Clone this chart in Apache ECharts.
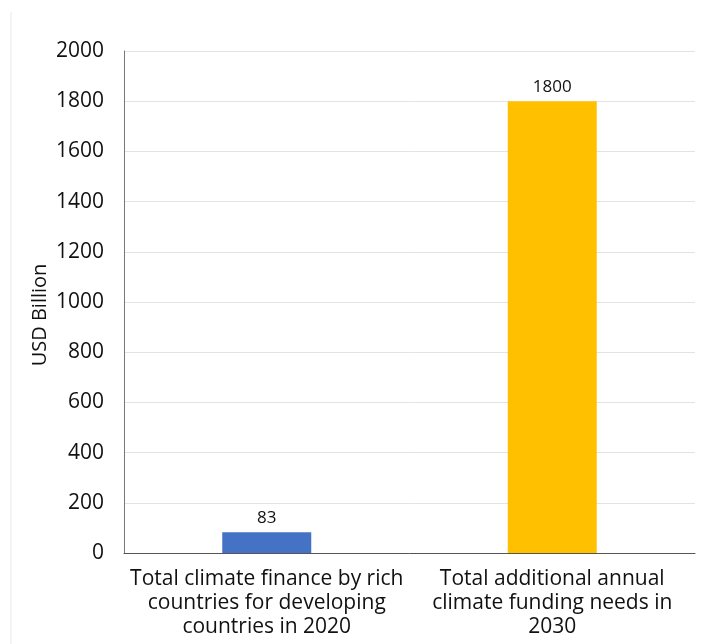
<!DOCTYPE html>
<html>
<head>
<meta charset="utf-8">
<script src="https://cdn.jsdelivr.net/npm/echarts@6/dist/echarts.min.js"></script>
<style>
  html, body { margin: 0; padding: 0; background: #fff; }
  #chart { width: 709px; height: 644px; }
</style>
</head>
<body>
<div id="chart"></div>
<script>
// categories and values
const categories = [
  'Total climate finance by rich\ncountries for developing\ncountries in 2020',
  'Total additional annual\nclimate funding needs in\n2030'
];
const values = [83, 1800];
const barColors = ['#4472c4', '#ffc000'];

const chart = echarts.init(document.getElementById('chart'));

const option = {
  animation: false,
  textStyle: { fontFamily: 'Open Sans' },
  graphic: [
    {
      type: 'line',
      shape: { x1: 11, y1: 12, x2: 11, y2: 644 },
      style: { stroke: '#e8e8e8', lineWidth: 1 }
    }
  ],
  grid: { left: 124, right: 14, top: 51, bottom: 91 },
  xAxis: {
    type: 'category',
    data: categories,
    axisLine: { lineStyle: { color: '#555', width: 1 } },
    axisTick: { show: false },
    axisLabel: {
      color: '#111',
      fontSize: 21,
      lineHeight: 24,
      margin: 14,
      interval: 0
    }
  },
  yAxis: {
    type: 'value',
    min: 0,
    max: 2000,
    interval: 200,
    name: 'USD Billion',
    nameLocation: 'middle',
    nameGap: 74,
    nameMoveOverlap: false,
    nameTextStyle: { color: '#111', fontSize: 20, padding: [0, 26, 0, 0] },
    axisLine: { show: true, lineStyle: { color: '#777', width: 1 } },
    axisTick: { show: false },
    axisLabel: { color: '#111', fontSize: 21, margin: 20, formatter: v => String(v) },
    splitLine: { lineStyle: { color: '#e3e3e3', width: 1 } }
  },
  series: [
    {
      type: 'bar',
      barWidth: 89,
      data: values.map((v, i) => ({ value: v, itemStyle: { color: barColors[i] } })),
      label: {
        show: true,
        position: 'top',
        distance: 6,
        color: '#111',
        fontSize: 17
      }
    }
  ]
};

chart.setOption(option);
</script>
</body>
</html>
